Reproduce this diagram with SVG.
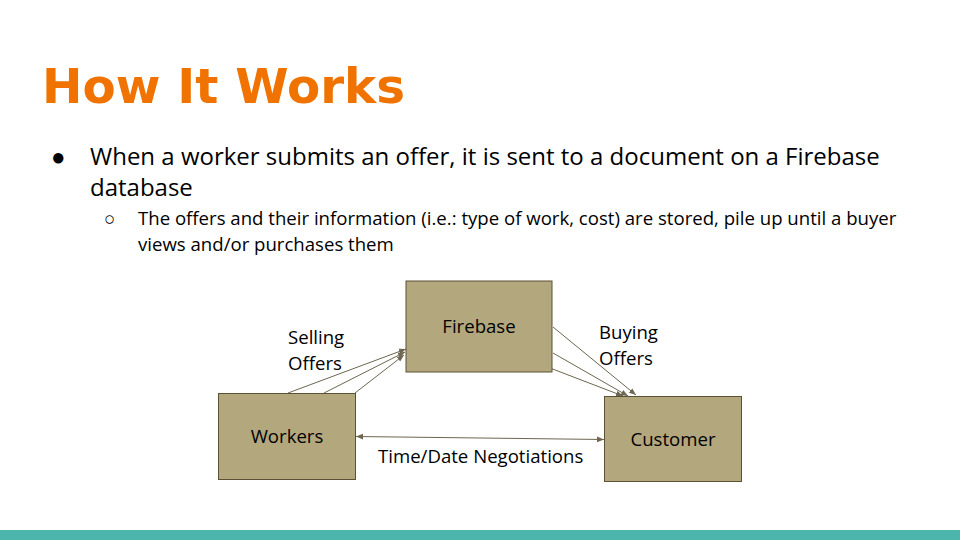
<svg xmlns="http://www.w3.org/2000/svg" width="960" height="540" viewBox="0 0 960 540">
<style>
.title{font-family:"DejaVu Sans",sans-serif;font-weight:bold;font-size:48px;fill:#F07300}
.body{font-family:"Open Sans",sans-serif;fill:#000}
.b1{font-size:24px}
.b2{font-size:18.6px}
.node rect{fill:#B3A77E;stroke:#5C5135;stroke-width:1}
.node text{font-family:"Open Sans",sans-serif;font-size:18.6px;fill:#000;text-anchor:middle}
.lbl{font-family:"Open Sans",sans-serif;font-size:18.6px;fill:#000}
.conn line{stroke:#6E6650;stroke-width:1}
</style>
<defs>
<marker id="ah" viewBox="0 0 10 10" refX="10" refY="5" markerWidth="7" markerHeight="7" orient="auto-start-reverse" markerUnits="userSpaceOnUse">
<path d="M0,1 L10,5 L0,9 z" fill="#6E6650"/>
</marker>
</defs>
<rect width="960" height="540" fill="#fff"/>
<text class="title" x="42" y="103" textLength="363" lengthAdjust="spacingAndGlyphs">How It Works</text>
<text class="body b1" x="51" y="165">●</text>
<text class="body b1" x="90" y="165">When a worker submits an offer, it is sent to a document on a Firebase<tspan x="90" y="196">database</tspan></text>
<text class="body b2" x="104" y="225">○</text>
<text class="body b2" x="138" y="225">The offers and their information (i.e.: type of work, cost) are stored, pile up until a buyer<tspan x="138" y="251">views and/or purchases them</tspan></text>
<g class="conn">
<line x1="288" y1="393" x2="406" y2="349" marker-end="url(#ah)"/>
<line x1="324" y1="393" x2="405" y2="352" marker-end="url(#ah)"/>
<line x1="355" y1="393" x2="404" y2="355" marker-end="url(#ah)"/>
<line x1="553" y1="327" x2="636" y2="395" marker-end="url(#ah)"/>
<line x1="553" y1="353" x2="628" y2="396" marker-end="url(#ah)"/>
<line x1="550" y1="368" x2="623" y2="396" marker-end="url(#ah)"/>
<line x1="356" y1="436.5" x2="604" y2="439.5" marker-start="url(#ah)" marker-end="url(#ah)"/>
</g>
<g id="firebase" class="node"><rect x="406" y="281" width="146" height="91"/><text x="479" y="333">Firebase</text></g>
<g id="workers" class="node"><rect x="218.5" y="393.5" width="137" height="86"/><text x="287" y="443">Workers</text></g>
<g id="customer" class="node"><rect x="604.5" y="396.5" width="137" height="85"/><text x="673" y="446">Customer</text></g>
<text class="lbl" x="288" y="344">Selling<tspan x="288" y="369.5">Offers</tspan></text>
<text class="lbl" x="599" y="339">Buying<tspan x="599" y="364.5">Offers</tspan></text>
<text class="lbl" x="378" y="463">Time/Date Negotiations</text>
<rect x="0" y="530" width="960" height="10" fill="#4DB6AC"/>
</svg>
